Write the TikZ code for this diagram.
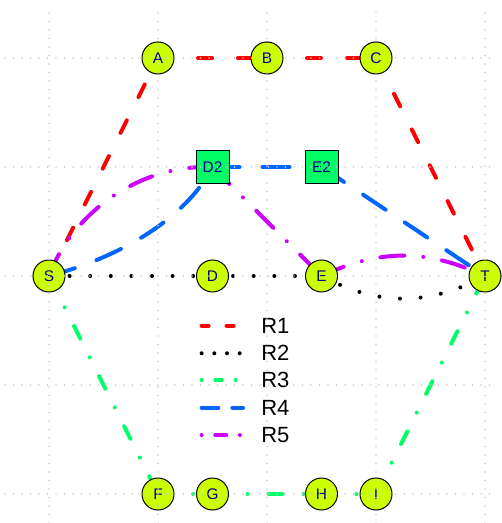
\documentclass[tikz,border=0pt]{standalone}
\usepackage{fontspec}
\setmainfont{Liberation Sans}
\usepackage{tikz}
\usetikzlibrary{backgrounds,positioning}
\definecolor{nodeyellow}{HTML}{CCFF00}
\definecolor{routegreen}{HTML}{00FF66}
\definecolor{routeblue}{HTML}{0066FF}
\definecolor{routepurple}{HTML}{CC00FF}
\definecolor{labelnavy}{HTML}{000080}

\begin{document}
\begin{tikzpicture}[x=54.5pt,y=54.5pt]
\tikzstyle{stop}=[circle,draw=black,line width=0.5pt,fill=nodeyellow,text=labelnavy,minimum size=16pt,inner sep=0pt,font=\fontsize{7.7}{8}\selectfont]
\tikzstyle{hub}=[stop,rectangle,fill=routegreen,minimum size=16.5pt]
\tikzstyle{route}=[line width=2pt,line cap=round]
\tikzstyle{r1}=[route,red,dash pattern=on 7pt off 13pt]
\tikzstyle{r2}=[route,black,dash pattern=on 0pt off 10.3pt]
\tikzstyle{r3}=[route,routegreen,dash pattern=on 7pt off 10.5pt on 0pt off 10.5pt]
\tikzstyle{r4}=[route,routeblue,dash pattern=on 13.5pt off 11.5pt]
\tikzstyle{r5}=[route,routepurple,dash pattern=on 12pt off 9.5pt on 0pt off 9.5pt]
\tikzstyle{leg1}=[route,red,dash pattern=on 3.5pt off 9pt]
\tikzstyle{leg2}=[route,black,dash pattern=on 0pt off 6.35pt]
\tikzstyle{leg3}=[route,routegreen,dash pattern=on 0pt off 6.85pt on 3.15pt off 7pt]
\tikzstyle{leg4}=[route,routeblue,dash pattern=on 8.35pt off 7pt]
\tikzstyle{leg5}=[route,routepurple,dash pattern=on 0pt off 6.85pt on 5.5pt off 6.8pt]
\tikzstyle{gridline}=[gray!40,line width=0.9pt,line cap=round,dash pattern=on 0pt off 4.25pt]
\useasboundingbox (-0.4495,-0.266) rectangle (4.1468,4.532);

% stops
\node[stop] (S) at (0,2) {S};
\node[stop] (A) at (1,4) {A};
\node[stop] (B) at (2,4) {B};
\node[stop] (C) at (3,4) {C};
\node[hub] (D2) at (1.5,3) {D2};
\node[hub] (E2) at (2.5,3) {E2};
\node[stop] (D) at (1.5,2) {D};
\node[stop] (E) at (2.5,2) {E};
\node[stop] (T) at (4,2) {T};
\node[stop] (F) at (1,0) {F};
\node[stop] (G) at (1.5,0) {G};
\node[stop] (H) at (2.5,0) {H};
\node[stop] (I) at (3,0) {I};

% routes
\begin{scope}[on background layer]
\path[r1]
  (S.center) edge (A.center)
  (A.center) edge (B.center)
  (B.center) edge (C.center)
  (C.center) edge (T.center);
\path[r2]
  (S.center) edge (D.center)
  (D.center) edge (E.center);
\draw[r2] (E.center) .. controls +(-28:0.59) and +(-152:0.59) .. (T.center);
\path[r3]
  (S.center) edge (F.center)
  (F.center) edge (G.center)
  (G.center) edge (H.center)
  (H.center) edge (I.center)
  (I.center) edge (T.center);
\draw[r4] (S.center) .. controls +(15:0.8) and +(243:0.45) .. (D2.center);
\path[r4]
  (D2.center) edge (E2.center)
  (E2.center) edge (T.center);
\draw[r5] (S.center) .. controls +(70:0.585) and +(178:0.7) .. (D2.center);
\path[r5] (D2.center) edge (E.center);
\draw[r5] (E.center) .. controls +(25:0.59) and +(155:0.59) .. (T.center);
\end{scope}

% legend
\foreach \route/\y in {1/1.545,2/1.291,3/1.046,4/0.792,5/0.541}{
  \draw[leg\route] (1.4,\y) -- (1.78,\y);
  \node[anchor=west,inner sep=0pt,font=\fontsize{11}{12}\selectfont] (R\route) at (1.944,\y) {R\route};
}

% grid
\foreach \x in {0,...,4}
  \draw[gridline] (\x,-0.266) -- (\x,4.42);
\foreach \y in {0,...,4}
  \draw[gridline] (-0.404,\y) -- (4.11,\y);
\end{tikzpicture}
\end{document}
